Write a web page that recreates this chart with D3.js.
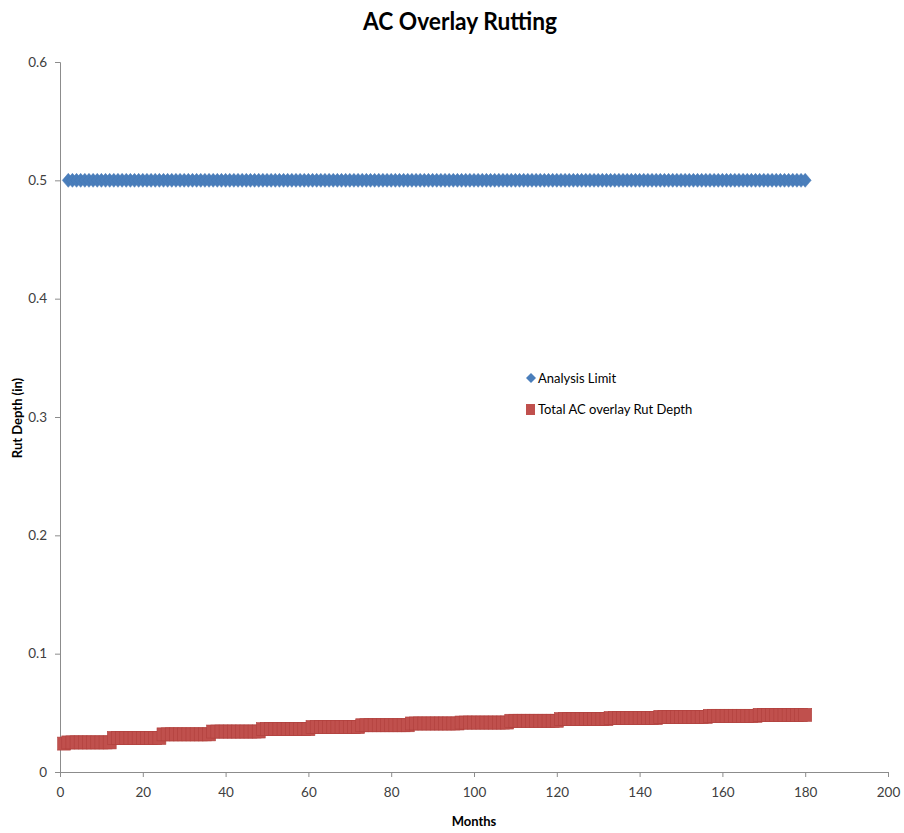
<!DOCTYPE html>
<html>
<head>
<meta charset="utf-8">
<script src="https://cdn.jsdelivr.net/npm/d3@7"></script>
<style>
  body { margin: 0; background: #fff; }
  svg { display: block; }
</style>
</head>
<body>
<svg id="chart" width="904" height="833"></svg>
<script>
// Rut depth predictions, months 1..180 (one row per year of service)
const rutDepth = [
  0.024, 0.025, 0.025, 0.025, 0.025, 0.025, 0.025, 0.025, 0.025, 0.025, 0.025, 0.025,
  0.0288, 0.0288, 0.0288, 0.0288, 0.0288, 0.0288, 0.0288, 0.0288, 0.0288, 0.0288, 0.0288, 0.0288,
  0.0318, 0.0318, 0.0318, 0.0318, 0.0318, 0.0318, 0.0318, 0.0318, 0.0318, 0.0318, 0.0318, 0.0318,
  0.0342, 0.0342, 0.0342, 0.0342, 0.0342, 0.0342, 0.0342, 0.0342, 0.0342, 0.0342, 0.0342, 0.0342,
  0.0362, 0.0362, 0.0362, 0.0362, 0.0362, 0.0362, 0.0362, 0.0362, 0.0362, 0.0362, 0.0362, 0.0362,
  0.038, 0.038, 0.038, 0.038, 0.038, 0.038, 0.038, 0.038, 0.038, 0.038, 0.038, 0.038,
  0.0395, 0.0395, 0.0395, 0.0395, 0.0395, 0.0395, 0.0395, 0.0395, 0.0395, 0.0395, 0.0395, 0.0395,
  0.041, 0.041, 0.041, 0.041, 0.041, 0.041, 0.041, 0.041, 0.041, 0.041, 0.041, 0.041,
  0.0418, 0.0418, 0.0418, 0.0418, 0.0418, 0.0418, 0.0418, 0.0418, 0.0418, 0.0418, 0.0418, 0.0418,
  0.0433, 0.0433, 0.0433, 0.0433, 0.0433, 0.0433, 0.0433, 0.0433, 0.0433, 0.0433, 0.0433, 0.0433,
  0.0447, 0.0447, 0.0447, 0.0447, 0.0447, 0.0447, 0.0447, 0.0447, 0.0447, 0.0447, 0.0447, 0.0447,
  0.0456, 0.0456, 0.0456, 0.0456, 0.0456, 0.0456, 0.0456, 0.0456, 0.0456, 0.0456, 0.0456, 0.0456,
  0.0466, 0.0466, 0.0466, 0.0466, 0.0466, 0.0466, 0.0466, 0.0466, 0.0466, 0.0466, 0.0466, 0.0466,
  0.0475, 0.0475, 0.0475, 0.0475, 0.0475, 0.0475, 0.0475, 0.0475, 0.0475, 0.0475, 0.0475, 0.0475,
  0.0483, 0.0483, 0.0483, 0.0483, 0.0483, 0.0483, 0.0483, 0.0483, 0.0483, 0.0483, 0.0483, 0.0483
];
const months = rutDepth.map((_, i) => i + 1);
// Limit is checked from month 2 onward
const limitMonths = months.slice(1);
const analysisLimit = 0.5;

const xTicks = [0, 20, 40, 60, 80, 100, 120, 140, 160, 180, 200];
const yTicks = [0, 0.1, 0.2, 0.3, 0.4, 0.5, 0.6];

const seriesNames = ["Analysis Limit", "Total AC overlay Rut Depth"];
const seriesColors = ["#4a7ebb", "#c0504d"];

const font = "Lato, 'Open Sans', sans-serif";
const svg = d3.select("#chart");

const x = d3.scaleLinear().domain([0, 200]).range([60, 888]);
const y = d3.scaleLinear().domain([0, 0.6]).range([772, 62]);

// Axes
const xAxis = svg.append("g")
  .attr("transform", `translate(0,${y(0)})`)
  .call(d3.axisBottom(x).tickValues(xTicks).tickSize(5).tickPadding(10));
const yAxis = svg.append("g")
  .attr("transform", `translate(${x(0)},0)`)
  .call(d3.axisLeft(y).tickValues(yTicks).tickSize(5).tickPadding(8)
    .tickFormat(d => d === 0 ? "0" : d3.format(".1f")(d)));

[xAxis, yAxis].forEach(g => {
  g.select(".domain").attr("stroke", "#8c8c8c").attr("stroke-width", 1);
  g.selectAll(".tick line").attr("stroke", "#8c8c8c");
  g.selectAll(".tick text")
    .attr("fill", "#404040")
    .style("font-family", font)
    .style("font-size", "13.5px");
});

// Title and axis titles
svg.append("text")
  .attr("x", 460).attr("y", 30)
  .attr("text-anchor", "middle")
  .attr("textLength", 194).attr("lengthAdjust", "spacingAndGlyphs")
  .style("font-family", font).style("font-weight", "bold").style("font-size", "24px")
  .attr("fill", "#000")
  .text("AC Overlay Rutting");

svg.append("text")
  .attr("x", 474).attr("y", 826)
  .attr("text-anchor", "middle")
  .style("font-family", font).style("font-weight", "bold").style("font-size", "13px")
  .attr("fill", "#000")
  .text("Months");

svg.append("text")
  .attr("transform", "translate(22,418) rotate(-90)")
  .attr("text-anchor", "middle")
  .style("font-family", font).style("font-weight", "bold").style("font-size", "13px")
  .attr("fill", "#000")
  .text("Rut Depth (in)");

// Marker shapes
const diamond = (w, h) => `M0,${-h}L${w},0L0,${h}L${-w},0Z`;
const sq = 6.5;

// Rut depth squares
svg.append("g").selectAll("rect")
  .data(months)
  .join("rect")
  .attr("x", d => x(d) - sq)
  .attr("y", (d, i) => y(rutDepth[i]) - sq)
  .attr("width", sq * 2).attr("height", sq * 2)
  .attr("fill", seriesColors[1])
  .attr("stroke", "#b0403d").attr("stroke-width", 0.6);

// Analysis limit diamonds
svg.append("g").selectAll("path")
  .data(limitMonths)
  .join("path")
  .attr("transform", d => `translate(${x(d)},${y(analysisLimit)})`)
  .attr("d", diamond(6, 7))
  .attr("fill", seriesColors[0])
  .attr("stroke", "#4477b5").attr("stroke-width", 0.5);

// Legend
const legend = svg.append("g").attr("transform", "translate(531,378)");
legend.append("path").attr("d", diamond(5, 5)).attr("fill", seriesColors[0]);
legend.append("rect").attr("x", -5).attr("y", 26).attr("width", 9).attr("height", 11)
  .attr("fill", seriesColors[1]);
seriesNames.forEach((name, i) => {
  legend.append("text")
    .attr("x", 7).attr("y", i * 31 + 4.5)
    .style("font-family", font).style("font-size", "13px")
    .attr("fill", "#000")
    .text(name);
});
</script>
</body>
</html>
